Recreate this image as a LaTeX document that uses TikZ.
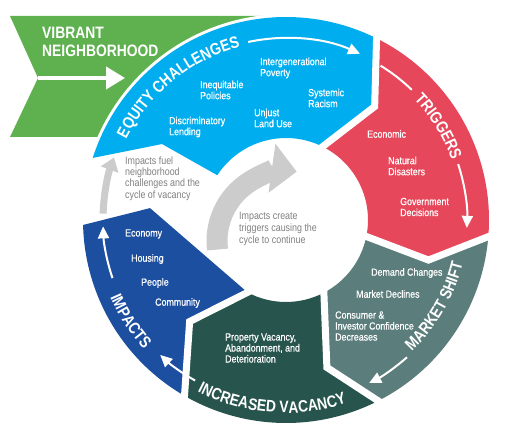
\documentclass[tikz,border=0pt]{standalone}
\usepackage{fontspec}
\setmainfont{Liberation Sans}
\newfontfamily\condfont[FakeStretch=0.84]{Liberation Sans}
\newfontfamily\itemfam[FakeStretch=0.85,FakeBold=0.6]{Liberation Sans}
\usetikzlibrary{arrows.meta,decorations.text,calc}
\definecolor{vgreen}{HTML}{5FB150}
\definecolor{eqblue}{HTML}{00AEEF}
\definecolor{trred}{HTML}{E6475A}
\definecolor{msteal}{HTML}{5B7E7C}
\definecolor{dkgreen}{HTML}{27544D}
\definecolor{impblue}{HTML}{1D4FA1}
\definecolor{lgray}{HTML}{CCCCCC}
\definecolor{tgray}{HTML}{7F7F7F}
\newcommand{\lblfont}{\condfont\bfseries\fontsize{16.5}{16.5}\selectfont}
\newcommand{\itemfont}{\itemfam\fontsize{10.4}{11}\selectfont}
\newcommand{\grayfont}{\condfont\fontsize{10.6}{11.2}\selectfont}
\tikzset{
  gapline/.style={white, line width=7pt, line join=miter},
  wline/.style={white, line width=2pt},
  wtip/.style={-{Triangle[length=12pt,width=11pt]}},
  item/.style={font=\itemfont, text=white, align=left, anchor=west, inner sep=0pt},
  gtext/.style={font=\grayfont, text=tgray, align=left, anchor=west, inner sep=0pt},
  curved/.style={decorate, decoration={text along path, text align=center, text color=white, text={|\lblfont|#1}}}
}
\begin{document}
\begin{tikzpicture}[x=1pt,y=1pt]
\useasboundingbox (0,0) rectangle (510,442);
\begin{scope}[shift={(286,222)}]
% green banner
\fill[vgreen] (-276,204) -- (-6,204) -- (-6,83) -- (-276,83) -- (-248,142) -- cycle;
\node[font=\lblfont, text=white, align=left, anchor=west, inner sep=0pt] (vn) at (-244,178) {VIBRANT\\[2pt]NEIGHBORHOOD};
\coordinate (ga0) at (-248,142);
\coordinate (ga1) at (-161,142);
\draw[white, line width=4pt, -{Triangle[length=19pt,width=22pt]}] (ga0) -- (ga1);
% segments
\path[fill=eqblue, preaction={draw=white, line width=6pt}]
  (162.2:203) -- (148.5:145.4) -- (146.9:82) arc[start angle=146.9, end angle=63.5, radius=82]
  -- (52:144) -- (63.5:203) arc[start angle=63.5, end angle=162.2, radius=203] -- cycle;
\fill[trred] (63.5:203) -- (52:144) -- (63.5:82) arc[start angle=63.5, end angle=-11.6, radius=82]
  -- (-15.7:148) -- (-4.7:203) arc[start angle=-4.7, end angle=63.5, radius=203] -- cycle;
\fill[msteal] (-4.7:203) -- (-15.7:148) -- (-11.6:82) arc[start angle=-11.6, end angle=-62.5, radius=82]
  -- (-74.5:153) -- (-63:203) arc[start angle=-63, end angle=-4.7, radius=203] -- cycle;
\fill[dkgreen] (-63:203) -- (-74.5:153) -- (-62.5:82) arc[start angle=-62.5, end angle=-118, radius=82]
  -- (-133.5:140) -- (-120:203) arc[start angle=-120, end angle=-63, radius=203] -- cycle;
\fill[impblue] (-120:203) -- (-133.5:140) -- (-118:82) -- (175:136.5) -- (181.4:203)
  arc[start angle=181.4, end angle=240, radius=203] -- cycle;
% boundaries
\coordinate (b1o) at (63.5:203); \coordinate (b1m) at (52:144); \coordinate (b1i) at (63.5:82);
\coordinate (b2o) at (-4.7:203); \coordinate (b2m) at (-15.7:148); \coordinate (b2i) at (-11.6:82);
\coordinate (b3o) at (-63:203); \coordinate (b3m) at (-74.5:153); \coordinate (b3i) at (-62.5:82);
\coordinate (b4o) at (-120:203); \coordinate (b4m) at (-133.5:140); \coordinate (b4i) at (-118:82);
\foreach \b in {b1,b2,b3,b4}{
  \draw[gapline] ($(\b m)!1.2!(\b o)$) -- (\b m) -- ($(\b m)!1.15!(\b i)$);
}
% gray arrows
\draw[lgray, line width=7pt, -{Triangle[length=13pt,width=18pt]}] (178:183) arc[start angle=178, end angle=160, radius=183];
\draw[lgray, line width=21pt, -{Triangle[length=25pt,width=48pt]}] ($(1,-21)+(187:70)$) arc[start angle=187, end angle=82, radius=70];
% gray texts
\node[gtext] (fuel) at (-161,41.5) {Impacts fuel\\neighborhood\\challenges and the\\cycle of vacancy};
\node[gtext, font=\condfont\fontsize{10.6}{12}\selectfont] (create) at (-47,-9) {Impacts create\\triggers causing the\\cycle to continue};
% curved labels
\path[curved={EQUITY CHALLENGES}] (160:179) arc[start angle=160, end angle=98, radius=179];
\path[curved={TRIGGERS}] (58:176) arc[start angle=58, end angle=5, radius=176];
\path[curved={MARKET SHIFT}] (-62:182) arc[start angle=-62, end angle=2, radius=182];
\path[curved={INCREASED VACANCY}] (-140:193) arc[start angle=-140, end angle=-49, radius=193];
\path[curved={IMPACTS}] (190:192) arc[start angle=190, end angle=236, radius=192];
% white arrows
\draw[wline, wtip] (102:182) arc[start angle=102, end angle=66, radius=182];
\draw[wline] (58.5:181) arc[start angle=58.5, end angle=46, radius=181];
\draw[wline, wtip] (18:181) arc[start angle=18, end angle=-2.5, radius=181];
\draw[wline, wtip] (-48.6:183) arc[start angle=-48.6, end angle=-63, radius=183];
\draw[wline, wtip] (-119.5:184.5) arc[start angle=-119.5, end angle=-133, radius=184.5];
\draw[wline, wtip] (198.5:183) arc[start angle=198.5, end angle=182, radius=183];
% items
\node[item] (ineq) at (-86,130) {Inequitable\\Policies};
\node[item] (discr) at (-117,93) {Discriminatory\\Lending};
\node[item] (inter) at (-26,152) {Intergenerational\\Poverty};
\node[item] (syst) at (22,122) {Systemic\\Racism};
\node[item] (unjust) at (-32,102) {Unjust\\Land Use};
\node[item] (econ) at (81,86) {Economic};
\node[item] (natural) at (102,54) {Natural\\Disasters};
\node[item] (gov) at (114,13) {Government\\Decisions};
\node[item] (demand) at (85,-53) {Demand Changes};
\node[item] (mdecl) at (70,-74) {Market Declines};
\node[item] (consumer) at (49,-106) {Consumer \&\\Investor Confidence\\Decreases};
\node[item] (prop) at (-61,-128) {Property Vacancy,\\Abandonment, and\\Deterioration};
\node[item] (economy) at (-161,-14) {Economy};
\node[item] (housing) at (-155,-39) {Housing};
\node[item] (people) at (-145,-63) {People};
\node[item] (community) at (-131,-83) {Community};
\end{scope}
\end{tikzpicture}
\end{document}
